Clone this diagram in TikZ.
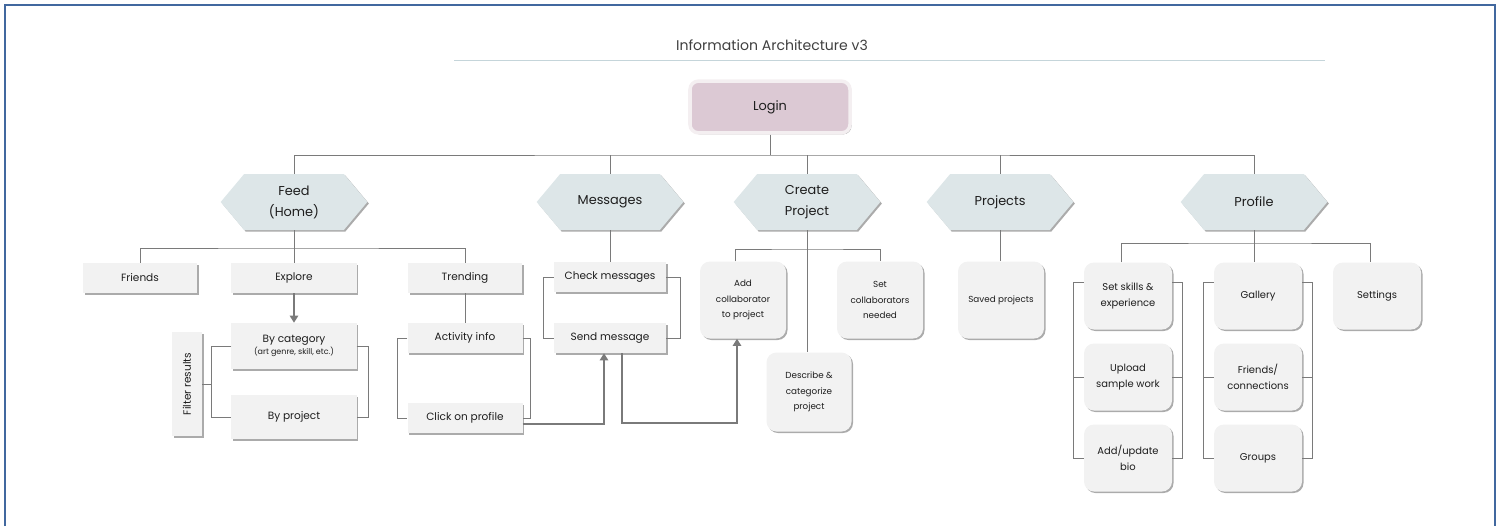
\documentclass[tikz,border=0pt]{standalone}
\usepackage{fontspec}
\setmainfont{Poppins}
\usetikzlibrary{shapes.symbols,shadows,arrows.meta}
\definecolor{linegray}{HTML}{7A7A7A}
\definecolor{boxfill}{HTML}{F2F2F2}
\definecolor{hexfill}{HTML}{DDE6E8}
\definecolor{loginfill}{HTML}{DCC9D4}
\definecolor{loginedge}{HTML}{F4EFF1}
\definecolor{textgray}{HTML}{1E1E1E}
\definecolor{rulecol}{HTML}{C5D5DA}
\definecolor{frameblue}{HTML}{41689F}
\begin{document}
\begin{tikzpicture}[x=0.03cm, y=-0.03cm,
        every node/.style = {align=center, text=textgray},
        shade/.style = {drop shadow={shadow xshift=1.3pt, shadow yshift=-1.3pt,
          fill=black!55, opacity=.6}},
        box/.style = {rectangle, fill=boxfill, shade, inner sep=1pt,
          minimum height=0.9cm, font=\fontsize{9}{13}\selectfont},
        card/.style = {rectangle, rounded corners=0.3cm, fill=boxfill, shade,
          inner sep=1pt, minimum width=2.58cm, minimum height=2.31cm,
          font=\fontsize{7.5}{13}\selectfont},
        pcard/.style = {card, minimum width=2.64cm, minimum height=2.01cm,
          font=\fontsize{8.5}{13.5}\selectfont},
        hexa/.style = {signal, signal to=west and east, signal pointer angle=100,
          fill=hexfill, shade, minimum width=4.4cm, minimum height=1.68cm,
          inner sep=1pt, font=\fontsize{11}{18}\selectfont},
        link/.style = {draw=linegray, line width=0.7pt},
        flow/.style = {draw=linegray, line width=1.5pt,
          -{Triangle[length=6pt, width=7pt]}}
        ]
    \useasboundingbox (0,0) rectangle (1502,526);
    \draw[frameblue, line width=1.7pt] (5,526) -- (5,5) -- (1495,5) -- (1495,526);

    % title
    \node[font=\fontsize{12}{14}\selectfont, text=black!75] (title) at (772,45)
        {Information Architecture v3};
    \draw[rulecol, line width=0.8pt] (454,60) -- (1325,60);

    \node[rectangle, rounded corners=0.25cm, fill=loginfill, draw=loginedge,
          line width=3pt, shade, minimum width=4.8cm, minimum height=1.55cm,
          font=\fontsize{11}{13}\selectfont] (login) at (770,107) {Login};

    % main sections
    \node[hexa] (feed) at (294,202) {Feed\\(Home)};
    \node[hexa] (messages) at (610,202) {Messages};
    \node[hexa] (create) at (807,202) {Create\\Project};
    \node[hexa] (projects) at (1000,202) {Projects};
    \node[hexa] (profile) at (1254,202) {Profile};

    \coordinate (topbus) at (770,155);
    \draw[link] (login.south) -- (topbus);
    \draw[link] (feed.north) |- (topbus) -| (profile.north);
    \foreach \sec in {messages,create,projects}
        \draw[link] (\sec.north) -- (\sec.north |- topbus);

    % feed
    \node[box, minimum width=3.42cm] (friends) at (140,278) {Friends};
    \node[box, minimum width=3.75cm] (explore) at (294,278) {Explore};
    \node[box, minimum width=3.42cm] (trending) at (465,278) {Trending};
    \node[box, minimum width=3.75cm, minimum height=1.38cm] (bycat) at (294,346)
        {By category\\[-3pt]{\fontsize{6.8}{8}\selectfont (art genre, skill, etc.)}};
    \node[box, minimum width=3.75cm, minimum height=1.32cm] (byproj) at (294,417) {By project};
    \node[box, minimum width=0.9cm, minimum height=3.12cm] (filter) at (187,384)
        {\rotatebox{90}{Filter results}};
    \node[box, minimum width=3.45cm] (activity) at (465,338) {Activity info};
    \node[box, minimum width=3.45cm] (click) at (465,418) {Click on profile};

    \coordinate (feedbus) at (294,248);
    \draw[link] (feed.south) -- (feedbus);
    \draw[link] (friends.north) |- (feedbus) -| (trending.north);
    \draw[link] (feedbus) -- (explore.north);
    \draw[flow] (explore) -- (bycat);
    \draw[link] (filter.east) -- ++(10,0);
    \draw[link] (bycat.west) -- ++(-20,0) |- (byproj.west);
    \draw[link] (bycat.east) -- ++(12,0) |- (byproj.east);
    \draw[link] (trending) -- (activity);
    \draw[link] (activity.west) -- ++(-10,0) |- (click.west);
    \draw[link] (activity.east) -- ++(8,0) |- (click.east);

    % messages
    \node[box, minimum width=3.36cm] (checkmsg) at (610,277) {Check messages};
    \node[box, minimum width=3.36cm] (sendmsg) at (610,338) {Send message};
    \draw[link] (messages.south) -- (checkmsg.north);
    \draw[link] (checkmsg.west) -- ++(-10,0) |- (sendmsg.west);
    \draw[link] (checkmsg.east) -- ++(14,0) |- (sendmsg.east);

    % create project
    \node[card] (addcollab) at (743,300) {Add\\collaborator\\to project};
    \node[card] (setcollab) at (880,300) {Set\\collaborators\\needed};
    \node[card, minimum width=2.55cm, minimum height=2.37cm] (describe) at (809,392)
        {Describe \&\\categorize\\project};
    \coordinate (createbus) at (807,249);
    \draw[link] (create.south) -- (create.south |- describe.north);
    \draw[link] ([xshift=-0.24cm]addcollab.north) |- (createbus) -| (setcollab.north);

    % cross links
    \coordinate (low) at (0,423);
    \coordinate (sendin) at ([xshift=-0.18cm]sendmsg.south);
    \coordinate (addin) at ([xshift=-0.18cm]addcollab.south);
    \draw[flow] ([yshift=-0.18cm]click.east) -| (sendin);
    \draw[flow] ([xshift=0.36cm]sendmsg.south) |- (low -| addin) -- (addin);

    % projects
    \node[card] (saved) at (1001,300) {Saved projects};
    \draw[link] (projects.south) -- (projects.south |- saved.north);

    % profile
    \node[pcard] (skills) at (1128,296) {Set skills \&\\experience};
    \node[pcard] (upload) at (1128,377) {Upload\\sample work};
    \node[pcard] (bio) at (1128,458) {Add/update\\bio};
    \node[pcard] (gallery) at (1258,296) {Gallery};
    \node[pcard] (connect) at (1258,377) {Friends/\\connections};
    \node[pcard] (groups) at (1258,458) {Groups};
    \node[pcard] (settings) at (1377,296) {Settings};

    \coordinate (profbus) at (1254,243);
    \draw[link] (profile.south) -- (profbus);
    \draw[link] ([xshift=-0.2cm]skills.north) |- (profbus) -| ([xshift=-0.2cm]settings.north);
    \draw[link] (profbus) -- (profbus |- gallery.north);
    \foreach \col/\low in {skills/bio,gallery/groups} {
        \draw[link] ([yshift=0.4cm]\col.west) -- ++(-10,0) |- (\low.west);
        \draw[link] ([yshift=0.4cm]\col.east) -- ++(10,0) |- (\low.east);
    }
    \draw[link] (upload.west) -- ++(-10,0);
    \draw[link] (upload.east) -- ++(10,0);
    \draw[link] (connect.west) -- ++(-10,0);
    \draw[link] (connect.east) -- ++(10,0);
\end{tikzpicture}
\end{document}
